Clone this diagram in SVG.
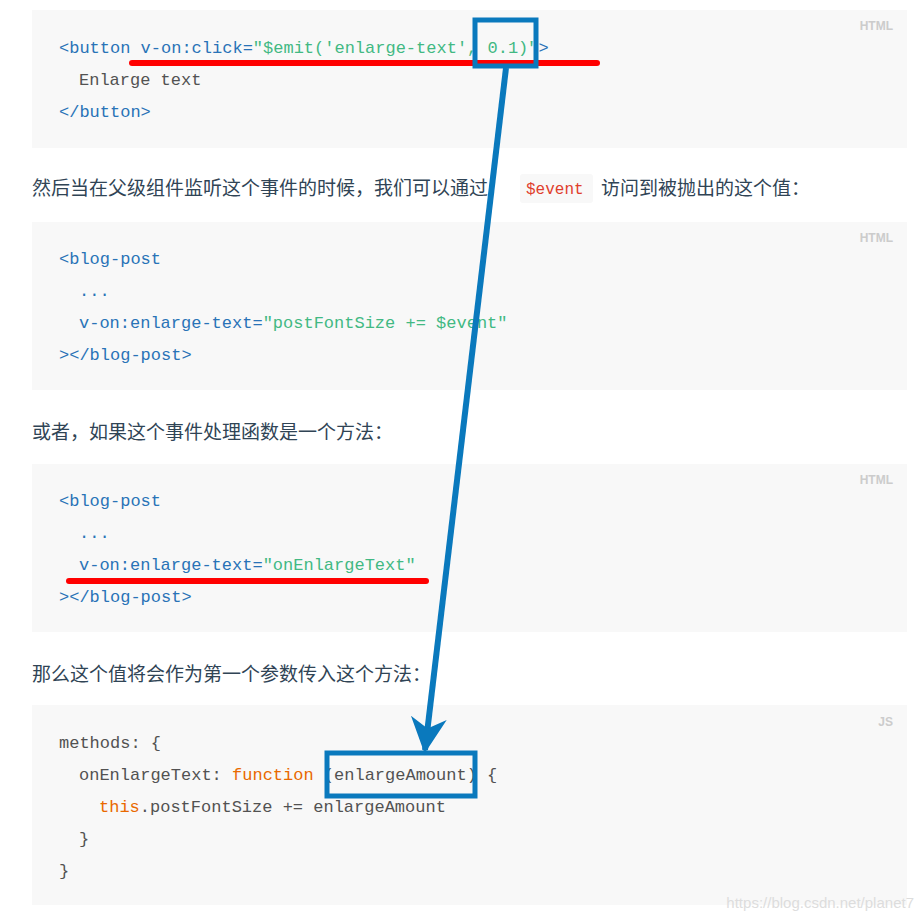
<svg xmlns="http://www.w3.org/2000/svg" width="924" height="919" viewBox="0 0 924 919">
<defs>
<style>
.blk{fill:#f8f8f8}
.c{font-family:"Liberation Mono","DejaVu Sans Mono",monospace;font-size:17px;fill:#525252}
.t{fill:#2973b7}.s{fill:#42b983}.k{fill:#e96900}
.lang{font-family:"Liberation Sans",Arial,sans-serif;font-size:12px;font-weight:bold;fill:#ccc;text-anchor:end}
.p{font-family:"Liberation Sans","Noto Sans CJK SC",sans-serif;font-size:19px;fill:#304455}
.red{stroke:#f00;stroke-width:6;stroke-linecap:round;fill:none}
.bb{stroke:#0a79bd;stroke-width:5;fill:none}
</style>
<marker id="ah" viewBox="0 0 10 10" refX="9" refY="5" markerWidth="8" markerHeight="6" orient="auto" markerUnits="strokeWidth"><path d="M0,0 L10,5 L0,10 L3,5 Z" fill="#0a79bd"/></marker>
</defs>
<rect width="924" height="919" fill="#fff"/>
<g id="block1"><rect class="blk" x="32" y="10" width="875" height="138"/><text class="lang" x="893" y="30">HTML</text>
<text class="c" x="59" y="53"><tspan class="t">&lt;button v-on:click=</tspan><tspan class="s">"$emit('enlarge-text', 0.1)"</tspan><tspan class="t">&gt;</tspan></text>
<text class="c" x="79" y="85">Enlarge text</text>
<text class="c t" x="59" y="117">&lt;/button&gt;</text></g>
<g id="para1"><text class="p" x="32" y="195">然后当在父级组件监听这个事件的时候，我们可以通过</text>
<rect x="520" y="174" width="73" height="29" rx="3" fill="#f8f8f8"/><text class="c" x="526" y="194" style="fill:#e03e2d;font-size:16px">$event</text>
<text class="p" x="601" y="195">访问到被抛出的这个值：</text></g>
<g id="block2"><rect class="blk" x="32" y="222" width="875" height="168"/><text class="lang" x="893" y="242">HTML</text>
<text class="c t" x="59" y="264">&lt;blog-post</text>
<text class="c t" x="79" y="296">...</text>
<text class="c" x="79" y="328"><tspan class="t">v-on:enlarge-text=</tspan><tspan class="s">"postFontSize += $event"</tspan></text>
<text class="c t" x="59" y="360">&gt;&lt;/blog-post&gt;</text></g>
<g id="para2"><text class="p" x="32" y="439">或者，如果这个事件处理函数是一个方法：</text></g>
<g id="block3"><rect class="blk" x="32" y="464" width="875" height="168"/><text class="lang" x="893" y="484">HTML</text>
<text class="c t" x="59" y="506">&lt;blog-post</text>
<text class="c t" x="79" y="538">...</text>
<text class="c" x="79" y="570"><tspan class="t">v-on:enlarge-text=</tspan><tspan class="s">"onEnlargeText"</tspan></text>
<text class="c t" x="59" y="602">&gt;&lt;/blog-post&gt;</text></g>
<g id="para3"><text class="p" x="32" y="681">那么这个值将会作为第一个参数传入这个方法：</text></g>
<g id="block4"><rect class="blk" x="32" y="705" width="875" height="200"/><text class="lang" x="893" y="726">JS</text>
<text class="c" x="59" y="748">methods: {</text>
<text class="c" x="79" y="780">onEnlargeText: <tspan class="k">function</tspan> (enlargeAmount) {</text>
<text class="c" x="99" y="812"><tspan class="k">this</tspan>.postFontSize += enlargeAmount</text>
<text class="c" x="79" y="844">}</text>
<text class="c" x="59" y="876">}</text>
<text x="914" y="908" text-anchor="end" style="font-family:'Liberation Sans',sans-serif;font-size:15px;fill:#ddd">https://blog.csdn.net/planet7</text></g>
<g id="annotations">
<line class="red" x1="132" y1="63" x2="597" y2="63"/>
<line class="red" x1="69" y1="581" x2="426" y2="581"/>
<rect id="box1" class="bb" x="475" y="20" width="61" height="46"/>
<rect id="box2" class="bb" x="327" y="753" width="148" height="43"/>
<line x1="506" y1="68" x2="425" y2="750" stroke="#0a79bd" stroke-width="6" marker-end="url(#ah)"/>
</g>
</svg>
